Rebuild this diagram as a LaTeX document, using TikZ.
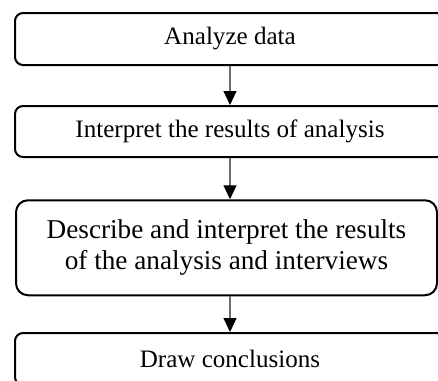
\documentclass[tikz,border=0pt]{standalone}
\usepackage{fontspec}
\setmainfont{Liberation Serif}
\usetikzlibrary{arrows.meta}

\tikzset{every picture/.style={line width=0.75pt}}
\tikzset{
  stepbox/.style={draw, line width=1.5pt, rounded corners=6pt, align=center,
    font=\fontsize{18.8}{21.6}\selectfont, inner sep=0pt},
  bigbox/.style={stepbox, rounded corners=9pt, font=\fontsize{20.4}{23.4}\selectfont},
  flow/.style={draw={rgb,255:red,110;green,110;blue,110}, line width=0.8pt,
    -{Triangle[length=10.5pt,width=9.75pt,black]}}
}

\begin{document}
\begin{tikzpicture}[x=0.75pt,y=0.75pt,yscale=-1,xscale=1]
\useasboundingbox (0,0) rectangle (438,380);
\clip (0,0) rectangle (438,380);

%Shape: Rounded Rectangle [analyze]
\node (analyze) [stepbox, minimum width=322.5pt, minimum height=39pt] at (230,39) {Analyze data};
%Shape: Rounded Rectangle [interpret]
\node (interpret) [stepbox, minimum width=322.5pt, minimum height=38.25pt] at (230,131.5) {Interpret the results of analysis};
%Shape: Rounded Rectangle [describe]
\node (describe) [bigbox, minimum width=315.75pt, minimum height=71.25pt] at (226.5,247.75) {Describe and interpret the results\\of the analysis and interviews};
%Shape: Rounded Rectangle [conclude]
\node (conclude) [stepbox, minimum width=322.5pt, minimum height=39pt] at (230,359) {Draw conclusions};

%Straight Lines
\draw [flow] (analyze) -- (interpret);
%Straight Lines
\draw [flow] (interpret) -- (interpret |- describe.north);
%Straight Lines
\draw [flow] (conclude |- describe.south) -- (conclude);

\end{tikzpicture}
\end{document}
